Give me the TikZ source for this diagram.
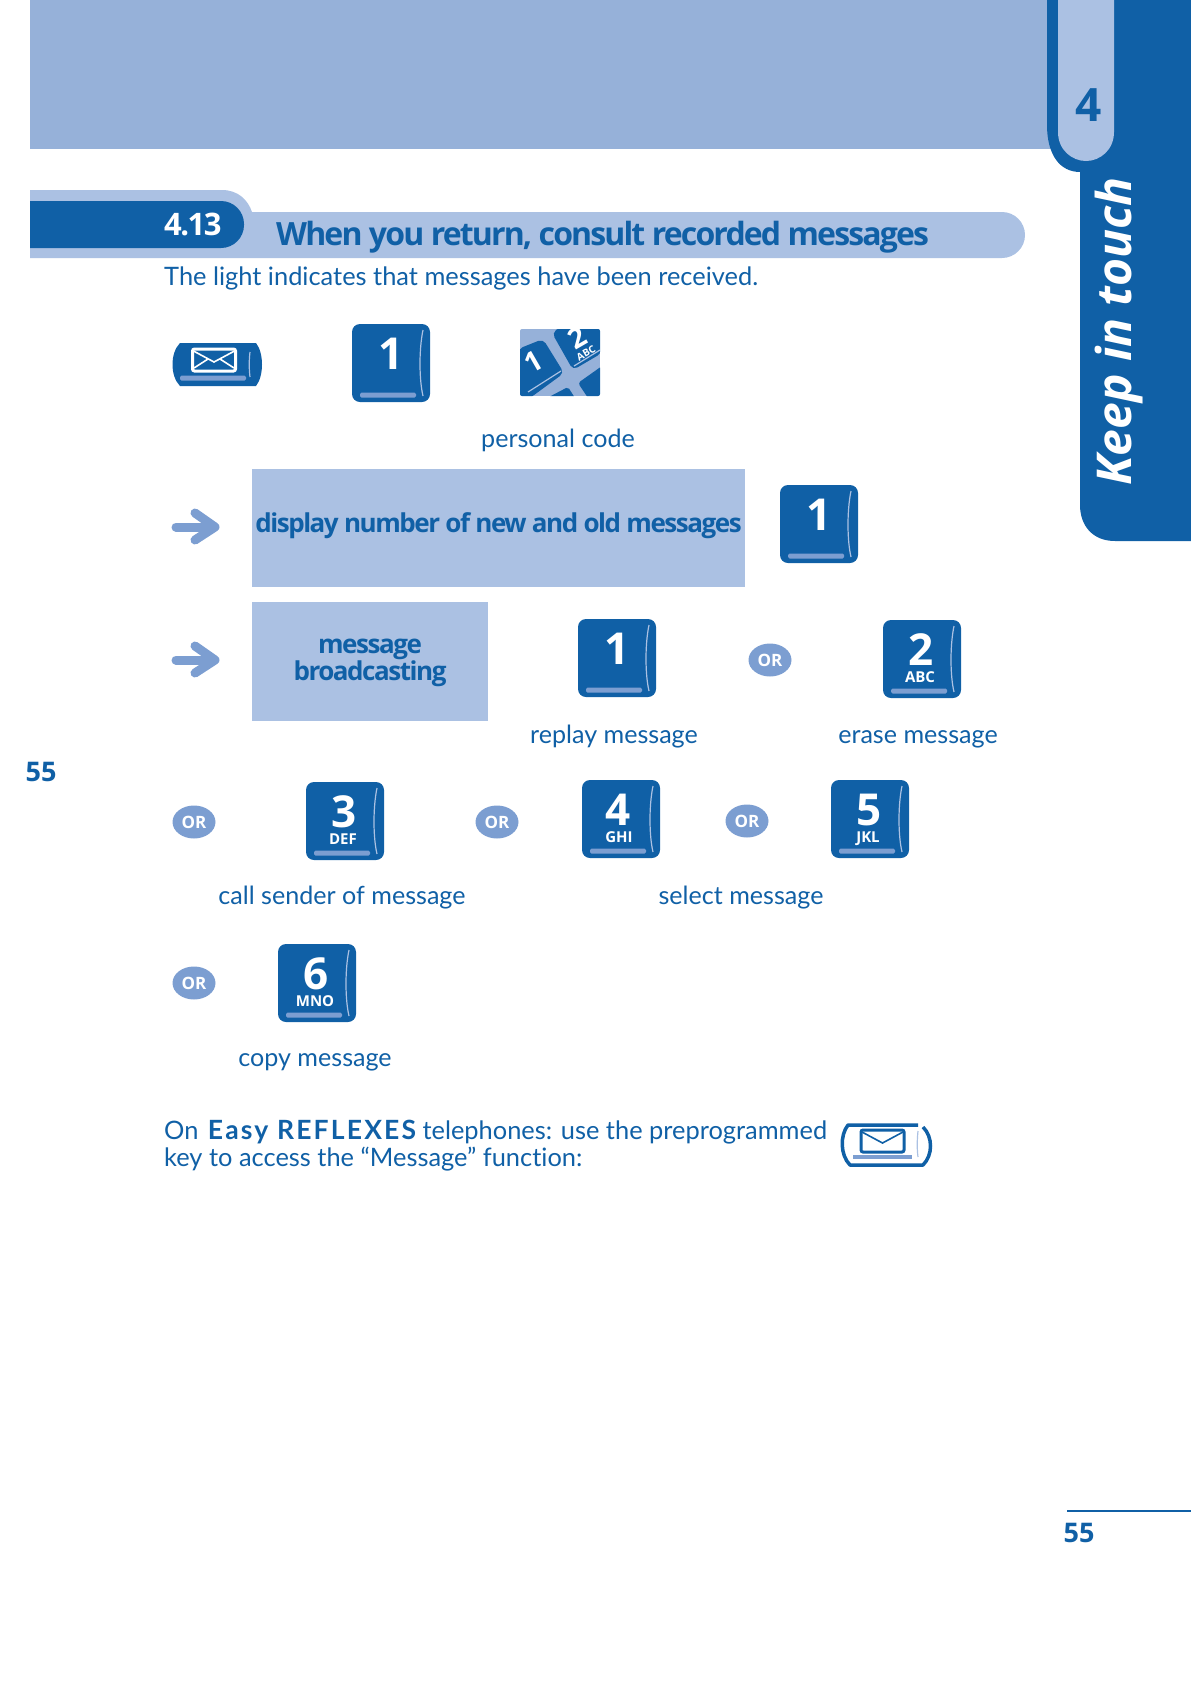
\documentclass[tikz,border=0pt]{standalone}
\usepackage{fontspec}
\setmainfont{Lato}[Ligatures=NoCommon]
\newfontfamily\headfont{Open Sans}
\usepackage{xcolor}
\usetikzlibrary{shapes.geometric, positioning}
\definecolor{deepblue}{HTML}{1060A6}
\definecolor{paleblue}{HTML}{ABC1E3}
\definecolor{bandblue}{HTML}{96B1D9}
\definecolor{midblue}{HTML}{7C9ED1}

\begin{document}
\begin{tikzpicture}[
    x = 1pt, y = -1pt,
    body/.style   = {text=deepblue, inner sep=0pt, anchor=base,
                     font=\fontsize{25.1}{27}\selectfont},
    bodyleft/.style = {body, anchor=base west, align=left,
                     font=\fontsize{25.4}{27}\selectfont},
    dispbox/.style = {text=deepblue, inner sep=0pt, anchor=base, align=center,
                     font=\headfont\bfseries\fontsize{26}{24}\selectfont\addfontfeature{LetterSpace=-5.6}},
    orbox/.style  = {ellipse, fill=midblue, text=white, inner sep=0pt,
                     minimum width=43pt, minimum height=33pt,
                     font=\headfont\bfseries\fontsize{17}{17}\selectfont},
    pagenum/.style = {text=deepblue, inner sep=0pt, anchor=base,
                     font=\headfont\bfseries\fontsize{27}{27}\selectfont},
    arr/.style    = {midblue, line width=9pt, line cap=round, line join=round},
    gloss/.style  = {paleblue, line width=1.2pt},
    pics/padkey/.style 2 args = {code = {
      \fill[deepblue, rounded corners=8pt] (0,0) rectangle (78,78);
      \fill[midblue, rounded corners=1.5pt] (8,68.5) rectangle (64,73.5);
      \draw[gloss] (71,6) .. controls (67,25) and (67,55) .. (71,72);
      \node[text=white, inner sep=0pt, anchor=base, font=\headfont\bfseries\fontsize{44}{44}\selectfont]
        (-digit) at (38,45) {#1};
      \node[text=white, inner sep=0pt, anchor=base, font=\headfont\bfseries\fontsize{15}{15}\selectfont]
        (-letters) at (37,62.5) {#2};
    }},
    pics/postbox/.style = {code = {
      \draw[line width=#1, rounded corners=2pt] (0,0) rectangle (43,22);
      \draw[line width=1.6pt] (1,2) -- (21.5,13) -- (42,2);
    }}
]
  \useasboundingbox (0,0) rectangle (1191,1684);

  % top band and chapter tab
  \fill[bandblue] (30,0) rectangle (1060,149);
  \fill[deepblue] (1047,0) -- (1191,0) -- (1191,541) -- (1115,541)
    .. controls (1092,541) and (1080,525) .. (1080,505) -- (1080,172)
    .. controls (1060,172) and (1047,155) .. (1047,125) -- cycle;
  \fill[paleblue] (1058,0) -- (1114,0) -- (1114,132)
    .. controls (1114,150) and (1100,161) .. (1086,161)
    .. controls (1072,161) and (1058,150) .. (1058,132) -- cycle;
  \node[text=deepblue, inner sep=0pt, anchor=base, font=\headfont\bfseries\fontsize{46}{46}\selectfont]
    (chapter) at (1089,121) {4};
  \node[text=white, inner sep=0pt, rotate=90, anchor=base west,
    font=\headfont\bfseries\itshape\fontsize{48}{48}\selectfont]
    (touch) at (1131,486) {Keep in touch};

  % section header
  \fill[paleblue] (30,190) -- (222,190) .. controls (238,190) and (248,200) .. (252,212)
    [rounded corners=23pt] -- (1025,212) -- (1025,258) [sharp corners] -- (30,258) -- cycle;
  \fill[deepblue] (30,201) [rounded corners=23pt] -- (244,201) -- (244,248)
    [sharp corners] -- (30,248) -- cycle;
  \node[text=white, inner sep=0pt, anchor=base west,
    font=\headfont\bfseries\fontsize{31}{31}\selectfont\addfontfeature{LetterSpace=-5}]
    (secnum) at (164,235) {4.13};
  \node[text=deepblue, inner sep=0pt, anchor=base west,
    font=\headfont\bfseries\fontsize{32}{32}\selectfont\addfontfeature{LetterSpace=-5.8}]
    (title) at (276,245) {When you return, consult recorded messages};
  \node[bodyleft] (intro) at (164,285) {The light indicates that messages have been received.};

  % first row
  \fill[deepblue] (180,343) -- (256,343) .. controls (264,353) and (264,376) .. (256,386)
    -- (180,386) .. controls (170,376) and (170,353) .. (180,343) -- cycle;
  \fill[midblue, rounded corners=1.5pt] (180,375.5) rectangle (246,380.5);
  \draw[gloss] (250,352) .. controls (249,360) and (249,369) .. (250,377);
  \pic[white] (msg) at (192.5,349) {postbox=3pt};
  \draw[white, line width=1.6pt] (194,368) -- (208,359) (234,368) -- (220,359);
  \pic (firstone) at (352,324) {padkey={\kern3pt 1}{}};

  \begin{scope}
    \clip[rounded corners=2pt] (520,329) rectangle (600,396);
    \fill[bandblue] (520,329) rectangle (600,396);
    \fill[deepblue, rounded corners=5pt] (518,349) -- (543,339) -- (564,373) -- (530,398) -- (518,398) -- cycle;
    \fill[deepblue, rounded corners=5pt] (552,333) -- (560,327) -- (602,327) -- (602,353) -- (573,370) -- cycle;
    \fill[deepblue, rounded corners=3pt] (578,383) -- (602,366) -- (602,398) -- (588,398) -- cycle;
    \fill[deepblue, rounded corners=2pt] (547,398) -- (568,387) -- (575,398) -- cycle;
    \draw[gloss] (528,392) -- (561,371);
    \draw[gloss] (574,366) -- (600,350);
  \end{scope}
  \node[text=white, inner sep=0pt, rotate=30, font=\headfont\bfseries\fontsize{28}{28}\selectfont]
    (padone) at (533,362) {1};
  \node[text=white, inner sep=0pt, rotate=30, font=\headfont\bfseries\fontsize{28}{28}\selectfont]
    (padtwo) at (577,338) {2};
  \node[text=white, inner sep=0pt, rotate=30, font=\headfont\bfseries\fontsize{10}{10}\selectfont]
    (padabc) at (586,353) {ABC};
  \node[body] (code) at (558,447) {personal code};

  % display rows
  \draw[arr] (176,527) -- (214,527);
  \draw[arr] (195,513) -- (215,527) -- (195,540);
  \draw[arr] (176,660) -- (214,660);
  \draw[arr] (195,646) -- (215,660) -- (195,673);
  \fill[paleblue] (252,469) rectangle (745,587);
  \fill[paleblue] (252,602) rectangle (488,721);
  \node[dispbox] (counts) at (498.5,532) {display number of new and old messages};
  \node[dispbox, anchor=center] (broadcast) at (370,663) {message\\broadcasting};
  \pic (nextone) at (780,485) {padkey={\kern3pt 1}{}};

  % message options
  \pic (replay) at (578,619) {padkey={\kern3pt 1}{}};
  \node[orbox] (ora) at (770,660) {OR};
  \pic (erase) at (883,620) {padkey={2}{ABC}};
  \node[body] (replaytext) at (614,743) {replay message};
  \node[body] (erasetext) at (918,743) {erase message};

  \node[pagenum] (leftnum) at (41,781) {55};

  \node[orbox] (orb) at (194,822) {OR};
  \pic (call) at (306,782) {padkey={3}{DEF}};
  \node[orbox] (orc) at (497,822) {OR};
  \pic (prev) at (582,780) {padkey={\kern-3pt 4}{GHI}};
  \node[orbox] (ord) at (747,821) {OR};
  \pic (nextmsg) at (831,780) {padkey={5}{JKL}};
  \node[body] (calltext) at (342,904) {call sender of message};
  \node[body] (selecttext) at (741,904) {select message};

  \node[orbox] (ore) at (194,983) {OR};
  \pic (copy) at (278,944) {padkey={6}{MNO}};
  \node[body] (copytext) at (315,1066) {copy message};

  % closing note
  \node[bodyleft] (notea) at (164,1139) {On\kern3pt{} {\fontsize{26.5}{27}\selectfont\bfseries\addfontfeature{LetterSpace=8.2}Easy REFLEXES} telephones: use the preprogrammed};
  \node[bodyleft] (noteb) at (164,1166) {key to access the “Message” function:};
  \draw[deepblue, line width=3.5pt, line join=round] (923,1127)
    .. controls (933,1137) and (933,1155) .. (923,1165) -- (850,1165)
    .. controls (840,1155) and (840,1135) .. (848,1125) -- (918,1125);
  \fill[midblue] (853,1155) rectangle (912,1159);
  \draw[gloss] (918,1131) .. controls (917,1140) and (917,1150) .. (918,1157);
  \pic[deepblue] (plainmsg) at (861,1130) {postbox=3pt};

  % foot
  \coordinate (footline) at (1067,1511);
  \draw[deepblue, line width=1.5pt] (footline) -- (1191,1511);
  \node[pagenum] (rightnum) at (1079,1542) {55};
\end{tikzpicture}
\end{document}
